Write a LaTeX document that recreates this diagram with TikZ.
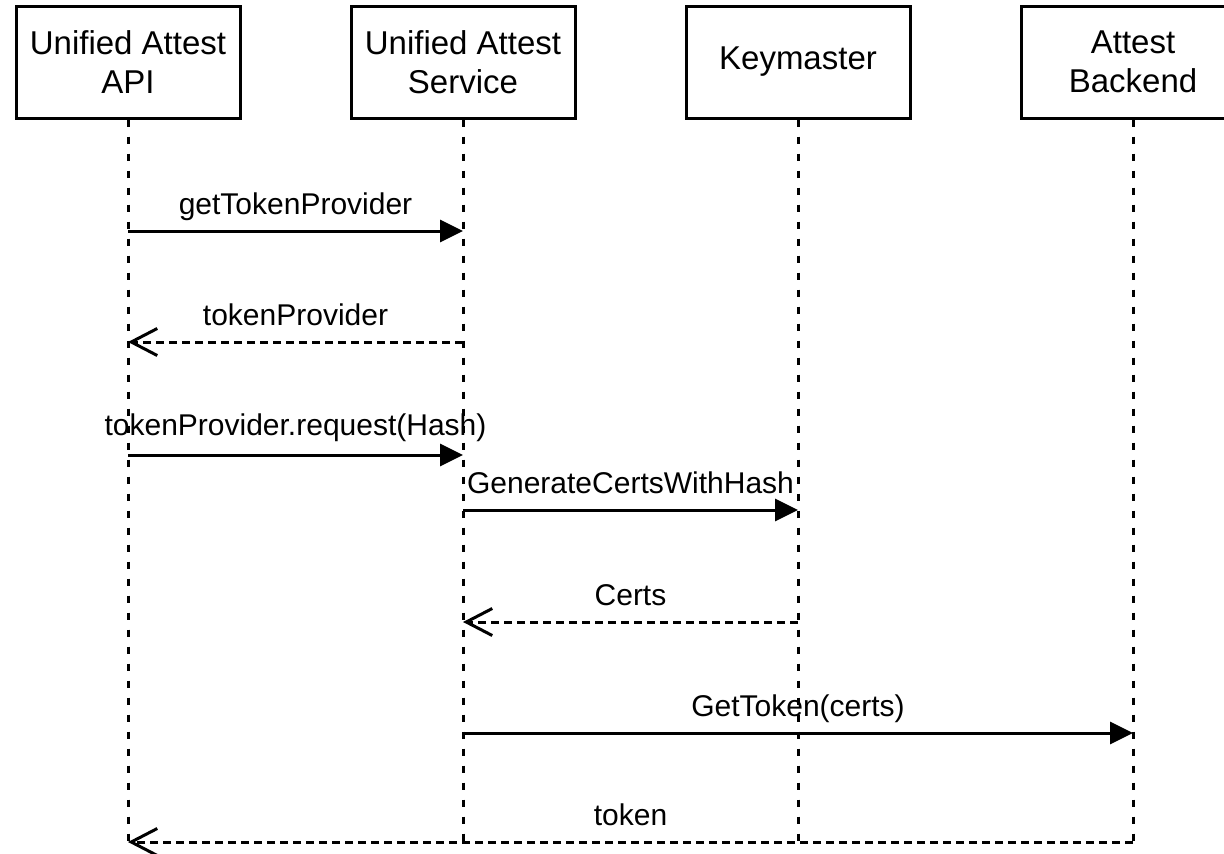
\documentclass[tikz,border=0pt]{standalone}
\usepackage{fontspec}
\setmainfont{Liberation Sans}
\usetikzlibrary{arrows.meta}
\begin{document}
\begin{tikzpicture}[x=1pt,y=-1pt,
  actor/.style={draw, line width=3pt, minimum width=224pt, minimum height=112pt,
    inner sep=0pt, align=center, font=\fontsize{33}{39}\selectfont},
  lifeline/.style={line width=3pt, dash pattern=on 7pt off 10pt},
  call/.style={line width=3pt, -{Triangle[length=23pt,width=22pt]}},
  reply/.style={line width=3pt, dash pattern=on 8pt off 5pt,
    -{Straight Barb[length=26pt,width=27pt,line width=3pt]}},
  lbl/.style={midway, anchor=base, yshift=17pt, inner sep=0pt,
    font=\fontsize{30}{36}\selectfont}]
\useasboundingbox (0,0) rectangle (1224,854);

% participants
\node[actor] (api) at (128,62) {Unified Attest\\API};
\node[actor] (svc) at (463,62) {Unified Attest\\Service};
\node[actor] (km)  at (798,62) {Keymaster};
\node[actor] (be)  at (1133,62) {Attest\\Backend};

% lifeline ends
\coordinate (apiEnd) at (128,842);
\coordinate (svcEnd) at (463,842);
\coordinate (kmEnd)  at (798,842);
\coordinate (beEnd)  at (1133,842);

\draw[lifeline] (api.south) -- (apiEnd);
\draw[lifeline] (svc.south) -- (svcEnd);
\draw[lifeline] (km.south)  -- (kmEnd);
\draw[lifeline] (be.south)  -- (beEnd);

% messages
\draw[call]  (api.south |- 0,231) -- node[lbl]{getTokenProvider} (svc.south |- 0,231);
\draw[reply] (svc.south |- 0,342) -- node[lbl]{tokenProvider} (api.south |- 0,342);
\draw[call]  (api.south |- 0,455) -- node[lbl, yshift=3pt]{tokenProvider.request(Hash)} (svc.south |- 0,455);
\draw[call]  (svc.south |- 0,510) -- node[lbl]{GenerateCertsWithHash} (km.south |- 0,510);
\draw[reply] (km.south |- 0,622) -- node[lbl]{Certs} (svc.south |- 0,622);
\draw[call]  (svc.south |- 0,733) -- node[lbl]{GetToken(certs)} (be.south |- 0,733);
\draw[reply] (beEnd) -- node[lbl]{token} (apiEnd);
\end{tikzpicture}
\end{document}
